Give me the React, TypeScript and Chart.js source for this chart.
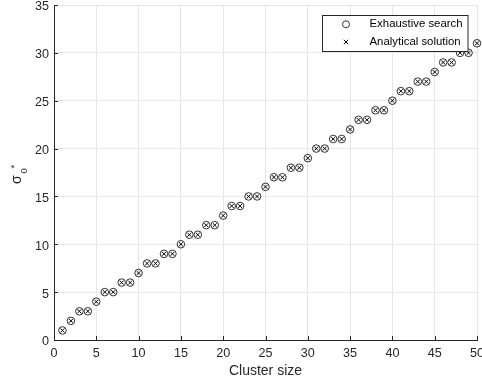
import React, { useEffect, useRef } from 'react';
import { Chart, registerables } from 'chart.js';

Chart.register(...registerables);

const clusterSizes = [
  1, 2, 3, 4, 5, 6, 7, 8, 9, 10, 11, 12, 13, 14, 15, 16, 17, 18, 19, 20, 21, 22, 23, 24, 25,
  26, 27, 28, 29, 30, 31, 32, 33, 34, 35, 36, 37, 38, 39, 40, 41, 42, 43, 44, 45, 46, 47, 48, 49, 50,
];
const exhaustiveSearch = [
  1, 2, 3, 3, 4, 5, 5, 6, 6, 7, 8, 8, 9, 9, 10, 11, 11, 12, 12, 13, 14, 14, 15, 15, 16,
  17, 17, 18, 18, 19, 20, 20, 21, 21, 22, 23, 23, 24, 24, 25, 26, 26, 27, 27, 28, 29, 29, 30, 30, 31,
];
const analyticalSolution = [
  1, 2, 3, 3, 4, 5, 5, 6, 6, 7, 8, 8, 9, 9, 10, 11, 11, 12, 12, 13, 14, 14, 15, 15, 16,
  17, 17, 18, 18, 19, 20, 20, 21, 21, 22, 23, 23, 24, 24, 25, 26, 26, 27, 27, 28, 29, 29, 30, 30, 31,
];
const legendLabels = ['Exhaustive search', 'Analytical solution'];
const xTitle = 'Cluster size';

const FONT = '"Liberation Sans", Arial, Helvetica, sans-serif';
const AXIS_COLOR = '#262626';

const overlayPlugin = {
  id: 'matlabOverlay',
  afterDraw(chart: any) {
    const { ctx, chartArea, scales } = chart;
    const xs = scales.x;
    const ys = scales.y;
    ctx.save();
    // inward tick marks
    ctx.strokeStyle = AXIS_COLOR;
    ctx.lineWidth = 1;
    ctx.beginPath();
    xs.ticks.forEach((t: any) => {
      const px = Math.round(xs.getPixelForValue(t.value)) + 0.5;
      ctx.moveTo(px, chartArea.bottom);
      ctx.lineTo(px, chartArea.bottom - 4);
    });
    ys.ticks.forEach((t: any) => {
      const py = Math.round(ys.getPixelForValue(t.value)) + 0.5;
      ctx.moveTo(chartArea.left, py);
      ctx.lineTo(chartArea.left + 4, py);
    });
    ctx.stroke();

    // y-axis title sigma_0^*
    ctx.save();
    ctx.translate(20.5, 0);
    ctx.rotate(-Math.PI / 2);
    ctx.fillStyle = AXIS_COLOR;
    ctx.textBaseline = 'alphabetic';
    ctx.textAlign = 'left';
    ctx.font = `14px ${FONT}`;
    ctx.fillText('σ', -184, 0);
    ctx.font = `9.5px ${FONT}`;
    ctx.fillText('0', -173.5, 6.2);
    ctx.fillText('*', -168.5, -3.5);
    ctx.restore();

    // legend
    const lx = 322.5, ly = 15.5, lw = 145.5, lh = 36;
    ctx.fillStyle = '#ffffff';
    ctx.fillRect(lx, ly, lw, lh);
    ctx.strokeStyle = AXIS_COLOR;
    ctx.lineWidth = 1;
    ctx.strokeRect(lx, ly, lw, lh);
    const rows = [24.3, 42];
    // circle marker
    ctx.strokeStyle = '#000';
    ctx.lineWidth = 0.8;
    ctx.beginPath();
    ctx.arc(346, rows[0], 3.5, 0, Math.PI * 2);
    ctx.stroke();
    // cross marker
    ctx.lineWidth = 1;
    ctx.beginPath();
    const c = 2.2;
    ctx.moveTo(346 - c, rows[1] - c);
    ctx.lineTo(346 + c, rows[1] + c);
    ctx.moveTo(346 + c, rows[1] - c);
    ctx.lineTo(346 - c, rows[1] + c);
    ctx.stroke();
    ctx.fillStyle = '#000';
    ctx.font = `11.4px ${FONT}`;
    ctx.textBaseline = 'middle';
    ctx.fillText(legendLabels[0], 369.5, rows[0]);
    ctx.fillText(legendLabels[1], 369.5, rows[1]);
    ctx.restore();
  },
};

export default function App() {
  const canvasRef = useRef<HTMLCanvasElement | null>(null);

  useEffect(() => {
    const canvas = canvasRef.current;
    if (!canvas) return;
    const chart = new Chart(canvas, {
      type: 'scatter',
      data: {
        datasets: [
          {
            label: legendLabels[0],
            data: clusterSizes.map((x, i) => ({ x, y: exhaustiveSearch[i] })),
            pointStyle: 'circle',
            pointRadius: 3.8,
            pointBorderWidth: 0.8,
            borderColor: '#000',
            backgroundColor: 'rgba(0,0,0,0)',
            clip: false as any,
          },
          {
            label: legendLabels[1],
            data: clusterSizes.map((x, i) => ({ x, y: analyticalSolution[i] })),
            pointStyle: 'crossRot',
            pointRadius: 2.8,
            pointBorderWidth: 1,
            borderColor: '#000',
            backgroundColor: '#000',
            clip: false as any,
          },
        ],
      },
      options: {
        animation: false,
        responsive: false,
        events: [],
        layout: { padding: { top: 5, right: 4, left: 0, bottom: 0 } },
        plugins: {
          legend: { display: false },
          tooltip: { enabled: false },
        },
        scales: {
          x: {
            type: 'linear',
            min: 0,
            max: 50,
            ticks: {
              stepSize: 5,
              color: AXIS_COLOR,
              font: { family: FONT, size: 12.6 },
              padding: 6,
              maxRotation: 0,
            },
            grid: { color: '#e6e6e6', drawTicks: false, lineWidth: 1 },
            border: { display: true, color: AXIS_COLOR, width: 1 },
            title: {
              display: true,
              text: xTitle,
              color: AXIS_COLOR,
              font: { family: FONT, size: 14 },
              padding: { top: 0, bottom: 7 },
            },
            afterFit(scale: any) {
              scale.height = 47;
              scale.paddingLeft = 0;
              scale.paddingRight = 0;
            },
          },
          y: {
            type: 'linear',
            min: 0,
            max: 35,
            ticks: {
              stepSize: 5,
              color: AXIS_COLOR,
              font: { family: FONT, size: 12.6 },
              padding: 5,
              labelOffset: 2,
            },
            grid: { color: '#e6e6e6', drawTicks: false, lineWidth: 1 },
            border: { display: true, color: AXIS_COLOR, width: 1 },
            afterFit(scale: any) {
              scale.width = 54;
              scale.paddingTop = 0;
              scale.paddingBottom = 0;
            },
          },
        },
      },
      plugins: [overlayPlugin],
    });
    return () => chart.destroy();
  }, []);

  return (
    <div style={{ position: 'fixed', left: 0, top: 0, width: 482, height: 387, background: '#fff' }}>
      <canvas ref={canvasRef} width={482} height={387} style={{ display: 'block' }} />
    </div>
  );
}
